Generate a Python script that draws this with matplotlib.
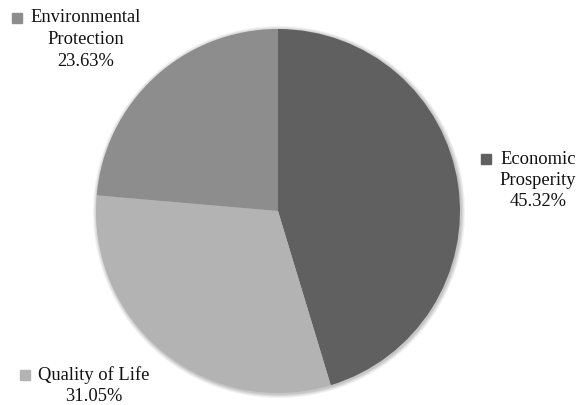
import matplotlib
matplotlib.use("Agg")
import matplotlib.pyplot as plt
from matplotlib.patches import Circle

# data
labels = ["Economic\nProsperity", "Quality of Life", "Environmental\nProtection"]
shares = [45.32, 31.05, 23.63]
colors = ["#606060", "#b3b3b3", "#8d8d8d"]

W, H = 577, 405
fig = plt.figure(figsize=(W / 100, H / 100), dpi=100)
ax = fig.add_axes([0, 0, 1, 1])
ax.set_xlim(0, W)
ax.set_ylim(0, H)
ax.set_aspect("equal")
ax.axis("off")

cx, cy, r = 278, H - 211, 182

# soft shadow around the pie
for i, a in enumerate([0.05, 0.05, 0.06, 0.08]):
    ax.add_patch(Circle((cx + 1, cy - 1), r + 4 - i, color="#000000", alpha=a,
                        lw=0, zorder=0))

ax.pie(shares, colors=colors, startangle=90, counterclock=False,
       center=(cx, cy), radius=r, frame=True,
       wedgeprops=dict(linewidth=0, zorder=1))
ax.set_xlim(0, W)
ax.set_ylim(0, H)
ax.axis("off")

# label positions (pixel coords: text centre x, first-line y, marker x)
pos = [(538, 159, 486), (94, 375, 25), (86, 18, 17)]
font = dict(family=["Liberation Serif", "DejaVu Serif"], fontsize=13.3,
            color="#111111")
for lab, val, col, (tx, ty, mx) in zip(labels, shares, colors, pos):
    lines = lab.split("\n") + ["%.2f%%" % val]
    for k, ln in enumerate(lines):
        ax.text(tx, H - (ty + 21.5 * k), ln, ha="center", va="center", **font)
    ax.plot(mx, H - ty, marker="s", ms=6.5, color=col, mec=col, zorder=3)

fig.savefig("out.png", dpi=100)
